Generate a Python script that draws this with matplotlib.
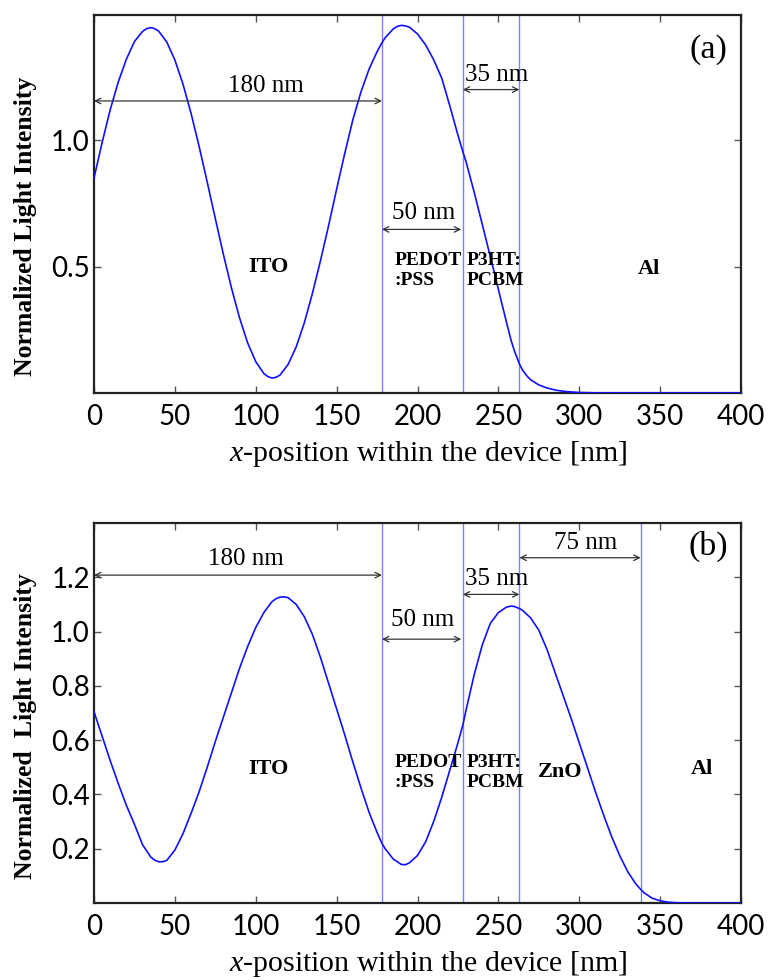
import matplotlib
matplotlib.use("Agg")
import matplotlib.pyplot as plt

plt.rcParams['mathtext.fontset'] = 'custom'
plt.rcParams['mathtext.rm'] = 'Liberation Serif'
plt.rcParams['mathtext.it'] = 'Liberation Serif:italic'

# ---------------- data ----------------
x_a = [0, 5, 10, 15, 20, 25, 30, 32.5, 35, 37.5, 40, 45, 50, 55, 60, 65, 70, 75, 80, 85,
       90, 95, 100, 105, 107.5, 110, 112.5, 115, 120, 125, 130, 135, 140, 145, 150, 155,
       160, 165, 170, 175, 178, 180, 185, 187.5, 190, 192.5, 195, 200, 205, 210, 215,
       220, 225, 228, 230, 235, 240, 245, 250, 255, 258, 260, 263, 265, 268, 270, 275,
       280, 285, 290, 295, 300, 310, 320, 350, 400]
y_a = [0.85, 0.99, 1.12, 1.23, 1.32, 1.39, 1.43, 1.441, 1.445, 1.441, 1.431, 1.388,
       1.317, 1.222, 1.106, 0.975, 0.834, 0.690, 0.548, 0.415, 0.297, 0.198, 0.124, 0.077,
       0.065, 0.059, 0.062, 0.071, 0.113, 0.182, 0.277, 0.393, 0.523, 0.661, 0.806, 0.947,
       1.080, 1.19, 1.28, 1.35, 1.385, 1.405, 1.44, 1.45, 1.454, 1.452, 1.447, 1.42, 1.377,
       1.318, 1.245, 1.135, 1.02, 0.955, 0.915, 0.795, 0.668, 0.54, 0.41, 0.28, 0.205,
       0.165, 0.115, 0.09, 0.065, 0.052, 0.032, 0.02, 0.012, 0.007, 0.004, 0.002, 0.0005,
       0.0, 0.0, 0.0]

x_b = [0, 5, 10, 15, 20, 25, 30, 35, 37.5, 40, 42.5, 45, 50, 55, 60, 65, 70, 75, 80, 85,
       90, 95, 100, 105, 110, 112.5, 115, 117.5, 120, 125, 130, 135, 140, 145, 150, 155,
       160, 165, 170, 175, 178, 180, 185, 190, 192.5, 195, 200, 205, 210, 215, 220, 225,
       228, 230, 235, 240, 245, 250, 255, 258, 260, 263, 265, 270, 275, 280, 285, 290,
       295, 300, 305, 310, 315, 320, 325, 330, 335, 338, 340, 345, 350, 355, 360, 370, 400]
y_b = [0.705, 0.615, 0.525, 0.44, 0.36, 0.29, 0.215, 0.17, 0.158, 0.152, 0.152, 0.157,
       0.195, 0.255, 0.33, 0.41, 0.50, 0.595, 0.685, 0.775, 0.865, 0.945, 1.015, 1.07,
       1.11, 1.121, 1.127, 1.128, 1.125, 1.10, 1.055, 0.99, 0.905, 0.81, 0.715, 0.62,
       0.52, 0.425, 0.335, 0.26, 0.22, 0.20, 0.162, 0.142, 0.141, 0.148, 0.175, 0.225,
       0.30, 0.39, 0.49, 0.59, 0.655, 0.71, 0.84, 0.95, 1.03, 1.07, 1.09, 1.094, 1.092,
       1.085, 1.078, 1.05, 1.005, 0.935, 0.85, 0.765, 0.68, 0.59, 0.50, 0.41, 0.325,
       0.245, 0.175, 0.115, 0.07, 0.05, 0.038, 0.018, 0.008, 0.003, 0.001, 0.0, 0.0]

bounds_a = [178, 228, 263]
bounds_b = [178, 228, 263, 338]

xticks = [0, 50, 100, 150, 200, 250, 300, 350, 400]
yticks_a = [0.5, 1.0]
yticks_b = [0.2, 0.4, 0.6, 0.8, 1.0, 1.2]

# arrows: (x_start, x_end, y, label, label_x, label_y)
arrows_a = [(0, 178, 1.155, "180 nm", 106, 1.213),
            (178, 227, 0.647, "50 nm", 204, 0.71),
            (228, 263, 1.20, "35 nm", 249, 1.257)]
arrows_b = [(0, 178, 1.208, "180 nm", 94, 1.268),
            (178, 227, 0.972, "50 nm", 203, 1.042),
            (228, 263, 1.137, "35 nm", 249, 1.193),
            (263, 338, 1.272, "75 nm", 304, 1.325)]

# layer labels: (text, x, y, ha)
layers_a = [("ITO", 108, 0.5, "center"), ("PEDOT\n:PSS", 186, 0.485, "left"),
            ("P3HT:\nPCBM", 230.5, 0.485, "left"), ("Al", 343, 0.49, "center")]
layers_b = [("ITO", 108, 0.495, "center"), ("PEDOT\n:PSS", 186, 0.48, "left"),
            ("P3HT:\nPCBM", 230.5, 0.48, "left"), ("ZnO", 288, 0.483, "center"),
            ("Al", 376, 0.495, "center")]

SERIF = "Liberation Serif"
TICKFONT = "Lato"

fig = plt.figure(figsize=(7.73, 9.8), dpi=100)
ax_a = fig.add_axes([94 / 773, 1 - 393 / 980, 647 / 773, 378 / 980])
ax_b = fig.add_axes([94 / 773, 1 - 903 / 980, 647 / 773, 380 / 980])


def draw(ax, xs, ys, bounds, yticks, ylim, arrows, layers, tag, tag_y, ylabel,
         ylab_y, xlab_y):
    for b in bounds:
        ax.axvline(b, color="#8080ff", lw=1.0, zorder=1)
    ax.plot(xs, ys, color="#1010ff", lw=1.2, zorder=3)
    ax.set_xlim(0, 400)
    ax.set_ylim(0, ylim)
    ax.set_xticks(xticks)
    ax.set_yticks(yticks)
    ax.set_xticklabels([str(t) for t in xticks], fontfamily=TICKFONT, fontsize=20)
    ax.set_yticklabels(["%.1f" % t for t in yticks], fontfamily=TICKFONT, fontsize=20)
    ax.tick_params(direction="in", length=5, width=1, top=True, right=True,
                   colors="#555555", labelcolor="black")
    ax.tick_params(axis="x", pad=8)
    ax.tick_params(axis="y", pad=3)
    for s in ax.spines.values():
        s.set_linewidth(1.6)
        s.set_color("#222222")
    ax.set_xlabel(r"$x$-position within the device [nm]", fontfamily=SERIF, fontsize=21.5)
    ax.xaxis.set_label_coords(0.517, xlab_y)
    ax.set_ylabel(ylabel, fontfamily=SERIF, fontsize=18.5, fontweight="bold")
    ax.yaxis.set_label_coords(-0.088, ylab_y)
    for x0, x1, y, lab, lx, ly in arrows:
        ax.annotate("", xy=(x1, y), xytext=(x0, y),
                    arrowprops=dict(arrowstyle="<->", color="#333333", lw=0.9,
                                    shrinkA=0, shrinkB=0, mutation_scale=10))
        ax.text(lx, ly, lab, fontfamily=SERIF, fontsize=18, ha="center", va="center")
    for t, x, y, ha in layers:
        fs = 14 if "\n" in t else 16
        ax.text(x, y, t, fontfamily=SERIF, fontsize=fs, fontweight="bold", ha=ha,
                va="center", linespacing=1.2)
    ax.text(380, tag_y, tag, fontfamily=SERIF, fontsize=24.5, ha="center", va="center")


draw(ax_a, x_a, y_a, bounds_a, yticks_a, 1.495, arrows_a, layers_a, "(a)", 1.36,
     "Normalized Light Intensity", 0.442, -0.121)
draw(ax_b, x_b, y_b, bounds_b, yticks_b, 1.40, arrows_b, layers_b, "(b)", 1.313,
     "Normalized  Light Intensity", 0.466, -0.121)

fig.savefig("out.png", dpi=100)
